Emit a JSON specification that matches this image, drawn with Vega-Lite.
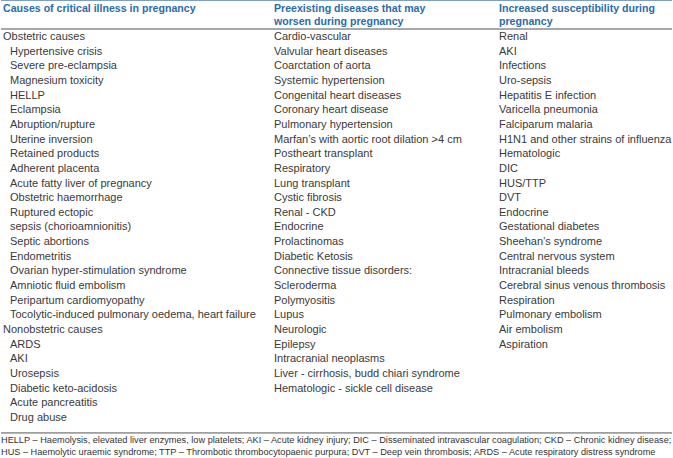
{
  "$schema": "https://vega.github.io/schema/vega-lite/v6.json",
  "width": 673,
  "height": 458,
  "autosize": {"type": "fit", "contains": "padding"},
  "padding": 0,
  "background": "white",
  "config": {"view": {"stroke": null}},
  "datasets": {
    "cells": [
      {"col": 1, "row": 0, "level": 0, "text": "Obstetric causes"},
      {"col": 1, "row": 1, "level": 1, "text": "Hypertensive crisis"},
      {"col": 1, "row": 2, "level": 1, "text": "Severe pre-eclampsia"},
      {"col": 1, "row": 3, "level": 1, "text": "Magnesium toxicity"},
      {"col": 1, "row": 4, "level": 1, "text": "HELLP"},
      {"col": 1, "row": 5, "level": 1, "text": "Eclampsia"},
      {"col": 1, "row": 6, "level": 1, "text": "Abruption/rupture"},
      {"col": 1, "row": 7, "level": 1, "text": "Uterine inversion"},
      {"col": 1, "row": 8, "level": 1, "text": "Retained products"},
      {"col": 1, "row": 9, "level": 1, "text": "Adherent placenta"},
      {"col": 1, "row": 10, "level": 1, "text": "Acute fatty liver of pregnancy"},
      {"col": 1, "row": 11, "level": 1, "text": "Obstetric haemorrhage"},
      {"col": 1, "row": 12, "level": 1, "text": "Ruptured ectopic"},
      {"col": 1, "row": 13, "level": 1, "text": "sepsis (chorioamnionitis)"},
      {"col": 1, "row": 14, "level": 1, "text": "Septic abortions"},
      {"col": 1, "row": 15, "level": 1, "text": "Endometritis"},
      {"col": 1, "row": 16, "level": 1, "text": "Ovarian hyper-stimulation syndrome"},
      {"col": 1, "row": 17, "level": 1, "text": "Amniotic fluid embolism"},
      {"col": 1, "row": 18, "level": 1, "text": "Peripartum cardiomyopathy"},
      {"col": 1, "row": 19, "level": 1, "text": "Tocolytic-induced pulmonary oedema, heart failure"},
      {"col": 1, "row": 20, "level": 0, "text": "Nonobstetric causes"},
      {"col": 1, "row": 21, "level": 1, "text": "ARDS"},
      {"col": 1, "row": 22, "level": 1, "text": "AKI"},
      {"col": 1, "row": 23, "level": 1, "text": "Urosepsis"},
      {"col": 1, "row": 24, "level": 1, "text": "Diabetic keto-acidosis"},
      {"col": 1, "row": 25, "level": 1, "text": "Acute pancreatitis"},
      {"col": 1, "row": 26, "level": 1, "text": "Drug abuse"},
      {"col": 2, "row": 0, "level": 0, "text": "Cardio-vascular"},
      {"col": 2, "row": 1, "level": 0, "text": "Valvular heart diseases"},
      {"col": 2, "row": 2, "level": 0, "text": "Coarctation of aorta"},
      {"col": 2, "row": 3, "level": 0, "text": "Systemic hypertension"},
      {"col": 2, "row": 4, "level": 0, "text": "Congenital heart diseases"},
      {"col": 2, "row": 5, "level": 0, "text": "Coronary heart disease"},
      {"col": 2, "row": 6, "level": 0, "text": "Pulmonary hypertension"},
      {"col": 2, "row": 7, "level": 0, "text": "Marfan’s with aortic root dilation >4 cm"},
      {"col": 2, "row": 8, "level": 0, "text": "Postheart transplant"},
      {"col": 2, "row": 9, "level": 0, "text": "Respiratory"},
      {"col": 2, "row": 10, "level": 0, "text": "Lung transplant"},
      {"col": 2, "row": 11, "level": 0, "text": "Cystic fibrosis"},
      {"col": 2, "row": 12, "level": 0, "text": "Renal - CKD"},
      {"col": 2, "row": 13, "level": 0, "text": "Endocrine"},
      {"col": 2, "row": 14, "level": 0, "text": "Prolactinomas"},
      {"col": 2, "row": 15, "level": 0, "text": "Diabetic Ketosis"},
      {"col": 2, "row": 16, "level": 0, "text": "Connective tissue disorders:"},
      {"col": 2, "row": 17, "level": 0, "text": "Scleroderma"},
      {"col": 2, "row": 18, "level": 0, "text": "Polymyositis"},
      {"col": 2, "row": 19, "level": 0, "text": "Lupus"},
      {"col": 2, "row": 20, "level": 0, "text": "Neurologic"},
      {"col": 2, "row": 21, "level": 0, "text": "Epilepsy"},
      {"col": 2, "row": 22, "level": 0, "text": "Intracranial neoplasms"},
      {"col": 2, "row": 23, "level": 0, "text": "Liver - cirrhosis, budd chiari syndrome"},
      {"col": 2, "row": 24, "level": 0, "text": "Hematologic - sickle cell disease"},
      {"col": 3, "row": 0, "level": 0, "text": "Renal"},
      {"col": 3, "row": 1, "level": 0, "text": "AKI"},
      {"col": 3, "row": 2, "level": 0, "text": "Infections"},
      {"col": 3, "row": 3, "level": 0, "text": "Uro-sepsis"},
      {"col": 3, "row": 4, "level": 0, "text": "Hepatitis E infection"},
      {"col": 3, "row": 5, "level": 0, "text": "Varicella pneumonia"},
      {"col": 3, "row": 6, "level": 0, "text": "Falciparum malaria"},
      {"col": 3, "row": 7, "level": 0, "text": "H1N1 and other strains of influenza"},
      {"col": 3, "row": 8, "level": 0, "text": "Hematologic"},
      {"col": 3, "row": 9, "level": 0, "text": "DIC"},
      {"col": 3, "row": 10, "level": 0, "text": "HUS/TTP"},
      {"col": 3, "row": 11, "level": 0, "text": "DVT"},
      {"col": 3, "row": 12, "level": 0, "text": "Endocrine"},
      {"col": 3, "row": 13, "level": 0, "text": "Gestational diabetes"},
      {"col": 3, "row": 14, "level": 0, "text": "Sheehan’s syndrome"},
      {"col": 3, "row": 15, "level": 0, "text": "Central nervous system"},
      {"col": 3, "row": 16, "level": 0, "text": "Intracranial bleeds"},
      {"col": 3, "row": 17, "level": 0, "text": "Cerebral sinus venous thrombosis"},
      {"col": 3, "row": 18, "level": 0, "text": "Respiration"},
      {"col": 3, "row": 19, "level": 0, "text": "Pulmonary embolism"},
      {"col": 3, "row": 20, "level": 0, "text": "Air embolism"},
      {"col": 3, "row": 21, "level": 0, "text": "Aspiration"}
    ],
    "headers": [
      {"col": 1, "row": -1.91, "text": "Causes of critical illness in pregnancy"},
      {"col": 2, "row": -1.91, "text": "Preexisting diseases that may"},
      {"col": 2, "row": -1.02, "text": "worsen during pregnancy"},
      {"col": 3, "row": -1.91, "text": "Increased susceptibility during"},
      {"col": 3, "row": -1.02, "text": "pregnancy"}
    ],
    "notes": [
      {"col": 0, "row": 27.5, "text": "HELLP – Haemolysis, elevated liver enzymes, low platelets; AKI – Acute kidney injury; DIC – Disseminated intravascular coagulation; CKD – Chronic kidney disease;"},
      {"col": 0, "row": 28.32, "text": "HUS – Haemolytic uraemic syndrome; TTP – Thrombotic thrombocytopaenic purpura; DVT – Deep vein thrombosis; ARDS – Acute respiratory distress syndrome"}
    ],
    "rules": [
      {"kind": "top", "row": -2.49},
      {"kind": "head", "row": -0.55},
      {"kind": "bottom", "row": 27.02}
    ]
  },
  "encoding": {
    "x": {"field": "col", "type": "quantitative", "axis": null,
          "scale": {"domain": [0, 1, 2, 3], "range": [0, 2, 273, 498], "nice": false, "zero": false}},
    "y": {"field": "row", "type": "quantitative", "axis": null,
          "scale": {"domain": [-2.525, 28.73], "range": [0, 458], "nice": false, "zero": false}}
  },
  "layer": [
    {
      "data": {"name": "rules"},
      "transform": [{"filter": "datum.kind === 'top'"}],
      "mark": {"type": "rule", "color": "#7f9fc0", "strokeWidth": 1},
      "encoding": {"x": null}
    },
    {
      "data": {"name": "rules"},
      "transform": [{"filter": "datum.kind === 'head'"}],
      "mark": {"type": "rule", "color": "#a8a8a8", "strokeWidth": 2},
      "encoding": {"x": null}
    },
    {
      "data": {"name": "rules"},
      "transform": [{"filter": "datum.kind === 'bottom'"}],
      "mark": {"type": "rule", "color": "#555555", "strokeWidth": 1},
      "encoding": {"x": null}
    },
    {
      "data": {"name": "headers"},
      "mark": {"type": "text", "align": "left", "baseline": "middle", "font": "Liberation Sans", "fontSize": 10.6, "fontWeight": "bold", "color": "#2b6cab"},
      "encoding": {"text": {"field": "text"}}
    },
    {
      "data": {"name": "cells"},
      "transform": [{"filter": "datum.level === 0"}],
      "mark": {"type": "text", "align": "left", "baseline": "middle", "font": "Liberation Sans", "fontSize": 11, "color": "#3a3a3a"},
      "encoding": {"text": {"field": "text"}}
    },
    {
      "data": {"name": "cells"},
      "transform": [{"filter": "datum.level === 1"}],
      "mark": {"type": "text", "align": "left", "baseline": "middle", "dx": 7, "font": "Liberation Sans", "fontSize": 11, "color": "#3a3a3a"},
      "encoding": {"text": {"field": "text"}}
    },
    {
      "data": {"name": "notes"},
      "mark": {"type": "text", "align": "left", "baseline": "middle", "font": "Liberation Sans", "fontSize": 9.2, "color": "#333333"},
      "encoding": {"text": {"field": "text"}}
    }
  ]
}
